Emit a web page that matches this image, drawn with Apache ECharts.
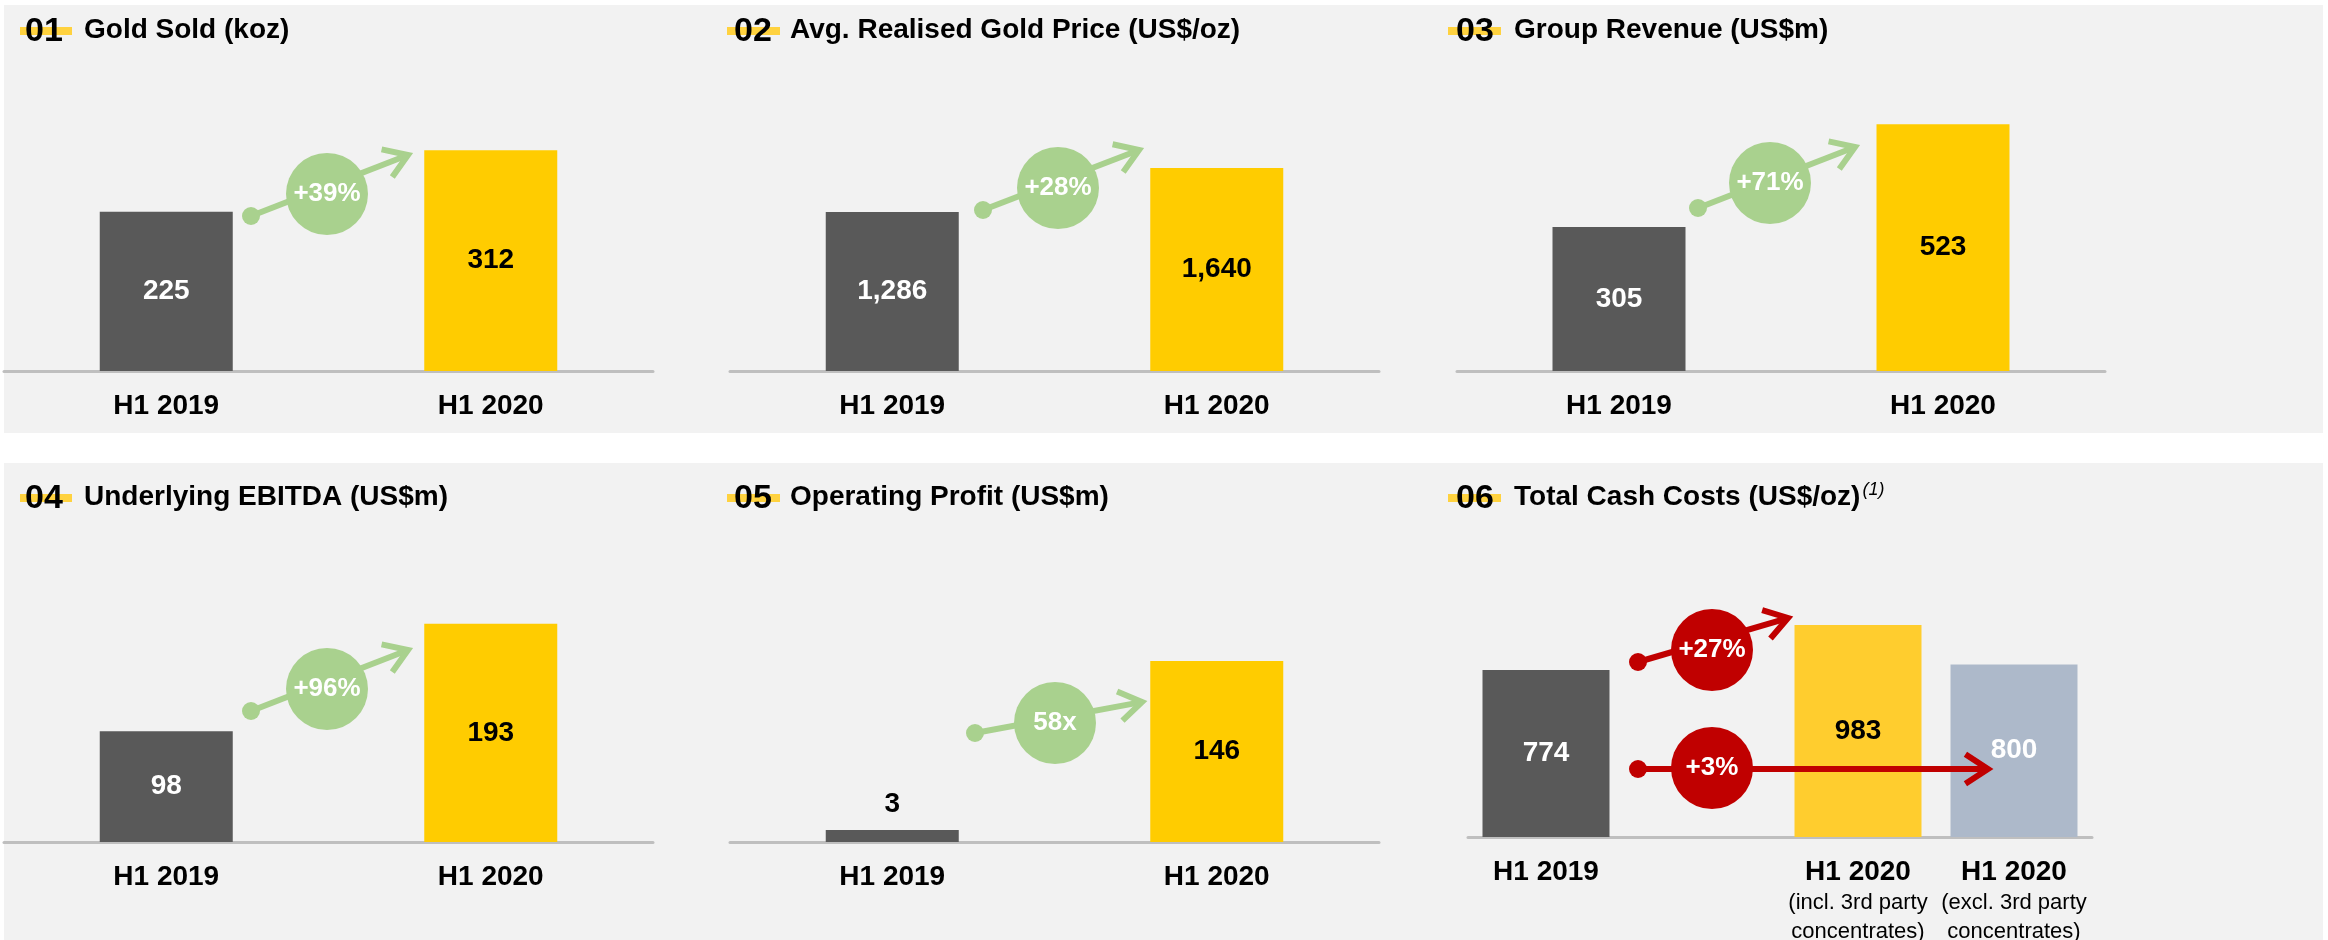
<!DOCTYPE html>
<html>
<head>
<meta charset="utf-8">
<script src="https://cdn.jsdelivr.net/npm/echarts@6/dist/echarts.min.js"></script>
<style>
  html, body { margin: 0; background: #fff; }
  #chart { width: 2328px; height: 940px; }
</style>
</head>
<body>
<div id="chart"></div>
<script>
// data
const categories = ["H1 2019", "H1 2020"];
const cashCategories = ["H1 2019", "", "H1 2020\n(incl. 3rd party\nconcentrates)", "H1 2020\n(excl. 3rd party\nconcentrates)"];
const goldSold = [225, 312];
const goldPrice = [1286, 1640];
const groupRevenue = [305, 523];
const ebitda = [98, 193];
const operatingProfit = [3, 146];
const cashCosts = [774, null, 983, 800];
const panelNumbers = ["01", "02", "03", "04", "05", "06"];
const panelTitles = [
  "Gold Sold (koz)",
  "Avg. Realised Gold Price (US$/oz)",
  "Group Revenue (US$m)",
  "Underlying EBITDA (US$m)",
  "Operating Profit (US$m)",
  "Total Cash Costs (US$/oz)",
];
const changeLabels = ["+39%", "+28%", "+71%", "+96%", "58x", "+27%", "+3%"];

const FONT = "'Liberation Sans', Arial, sans-serif";
const DARK = "#595959";
const YELLOW = "#FFCC00";
const YELLOW2 = "#FFCD2E";
const BLUEGRAY = "#ADB9CA";
const GREEN = "#A9D18E";
const RED = "#C00000";

// layout of each small chart
const panels = [
  { left: 4, width: 649, bottom: 371, max: 441, barWidth: 133, cats: categories, values: goldSold,
    colors: [DARK, YELLOW], labelColors: ["#fff", "#000"] },
  { left: 730, width: 649, bottom: 371, max: 2522, barWidth: 133, cats: categories, values: goldPrice,
    colors: [DARK, YELLOW], labelColors: ["#fff", "#000"] },
  { left: 1457, width: 648, bottom: 371, max: 661, barWidth: 133, cats: categories, values: groupRevenue,
    colors: [DARK, YELLOW], labelColors: ["#fff", "#000"] },
  { left: 4, width: 649, bottom: 842, max: 276, barWidth: 133, cats: categories, values: ebitda,
    colors: [DARK, YELLOW], labelColors: ["#fff", "#000"] },
  { left: 730, width: 649, bottom: 842, max: 251.6, barWidth: 133, cats: categories, values: operatingProfit,
    colors: [DARK, YELLOW], labelColors: ["#000", "#000"], labelPos: ["top", "inside"], minHeight: 12 },
  { left: 1468, width: 624, bottom: 837, max: 1447, barWidth: 127, cats: cashCategories, values: cashCosts,
    colors: [DARK, null, YELLOW2, BLUEGRAY], labelColors: ["#fff", null, "#000", "#fff"] },
];
const GRID_H = 312;

// header positions
const headers = [
  { x: 4, y: 30, hl: [20, 72] },
  { x: 730, y: 30, hl: [727, 780] },
  { x: 1452, y: 30, hl: [1448, 1501] },
  { x: 4, y: 497, hl: [20, 72] },
  { x: 730, y: 497, hl: [727, 780] },
  { x: 1452, y: 497, hl: [1448, 1501] },
];
const numberX = [25, 734, 1456, 25, 734, 1456];
const titleX = [84, 790, 1514, 84, 790, 1514];

// change badges (decoration)
const badges = [
  { color: GREEN, from: [251, 216], to: [408, 155], c: [327, 194] },
  { color: GREEN, from: [983, 210], to: [1139, 150], c: [1058, 188] },
  { color: GREEN, from: [1698, 208], to: [1855, 147], c: [1770, 183] },
  { color: GREEN, from: [251, 711], to: [408, 650], c: [327, 689] },
  { color: GREEN, from: [975, 733], to: [1142, 702], c: [1055, 723] },
  { color: RED, from: [1638, 662], to: [1788, 618], c: [1712, 650] },
  { color: RED, from: [1638, 769], to: [1988, 769], c: [1712, 768] },
];

function arrow(b, text) {
  const [x1, y1] = b.from, [x2, y2] = b.to;
  const ang = Math.atan2(y2 - y1, x2 - x1);
  const L = 27, a = 0.58;
  const p1 = [x2 - L * Math.cos(ang - a), y2 - L * Math.sin(ang - a)];
  const p2 = [x2 - L * Math.cos(ang + a), y2 - L * Math.sin(ang + a)];
  return [
    { type: "line", z: 10, shape: { x1, y1, x2: x2 - 2 * Math.cos(ang), y2: y2 - 2 * Math.sin(ang) },
      style: { stroke: b.color, lineWidth: 6 } },
    { type: "polyline", z: 10, shape: { points: [p1, [x2, y2], p2] },
      style: { stroke: b.color, lineWidth: 6, fill: null, lineJoin: "miter" } },
    { type: "circle", z: 10, shape: { cx: x1, cy: y1, r: 9 }, style: { fill: b.color } },
    { type: "circle", z: 11, shape: { cx: b.c[0], cy: b.c[1], r: 41 }, style: { fill: b.color } },
    { type: "text", z: 12, x: b.c[0], y: b.c[1],
      style: { text, fill: "#fff", font: "bold 26px " + FONT, align: "center", verticalAlign: "middle" } },
  ];
}

const graphics = [
  { type: "rect", z: 0, shape: { x: 4, y: 5, width: 2319, height: 428 }, style: { fill: "#F2F2F2" } },
  { type: "rect", z: 0, shape: { x: 4, y: 463, width: 2319, height: 477 }, style: { fill: "#F2F2F2" } },
];
headers.forEach((h, i) => {
  graphics.push({ type: "rect", z: 1, shape: { x: h.hl[0], y: h.y - 3, width: h.hl[1] - h.hl[0], height: 8 },
    style: { fill: "#FFD23F" } });
  graphics.push({ type: "text", z: 2, x: numberX[i], y: h.y + 2,
    style: { text: panelNumbers[i], fill: "#000", font: "bold 34px " + FONT, verticalAlign: "middle" } });
  const title = i === 5
    ? "{t|" + panelTitles[i] + "}{s|(1)}"
    : "{t|" + panelTitles[i] + "}";
  graphics.push({ type: "text", z: 2, x: titleX[i], y: h.y,
    style: { text: title, verticalAlign: "middle",
      rich: {
        t: { fill: "#000", fontSize: 28, fontWeight: "bold", fontFamily: FONT, lineHeight: 32 },
        s: { fill: "#000", fontSize: 18, fontStyle: "italic", fontFamily: FONT, verticalAlign: "top", lineHeight: 32, padding: [0, 0, 0, 2] },
      } } });
});
badges.forEach((b, i) => graphics.push(...arrow(b, changeLabels[i])));

const chart = echarts.init(document.getElementById("chart"));

const option = {
  animation: false,
  grid: panels.map((p) => ({
    left: p.left, width: p.width, top: p.bottom - GRID_H, height: GRID_H, outerBoundsMode: "none",
  })),
  xAxis: panels.map((p, i) => ({
    type: "category",
    gridIndex: i,
    data: p.cats,
    axisTick: { show: false },
    axisLine: { lineStyle: { color: "#BFBFBF", width: 3 } },
    axisLabel: {
      interval: 0,
      margin: 19,
      formatter: (v) => {
        if (!v) return "";
        const lines = v.split("\n");
        return lines.map((l, k) => (k === 0 ? "{a|" + l + "}" : "{b|" + l + "}")).join("\n");
      },
      rich: {
        a: { fontSize: 28, fontWeight: "bold", color: "#000", fontFamily: FONT, lineHeight: 32 },
        b: { fontSize: 22, color: "#000", fontFamily: FONT, lineHeight: 29 },
      },
    },
  })),
  yAxis: panels.map((p, i) => ({
    type: "value", gridIndex: i, min: 0, max: p.max, show: false, splitLine: { show: false },
  })),
  series: panels.map((p, i) => ({
    type: "bar",
    xAxisIndex: i,
    yAxisIndex: i,
    z: 5,
    barWidth: p.barWidth,
    barMinHeight: p.minHeight || 0,
    label: {
      show: true,
      position: "inside",
      fontSize: 28,
      fontWeight: "bold",
      fontFamily: FONT,
      formatter: (d) => d.value.toLocaleString("en-US"),
    },
    data: p.values.map((v, k) =>
      v == null
        ? "-"
        : {
            value: v,
            itemStyle: { color: p.colors[k] },
            label: {
              color: p.labelColors[k],
              position: p.labelPos ? p.labelPos[k] : "inside",
              distance: 12,
            },
          }
    ),
  })),
  graphic: { elements: graphics },
};

chart.setOption(option);
</script>
</body>
</html>
